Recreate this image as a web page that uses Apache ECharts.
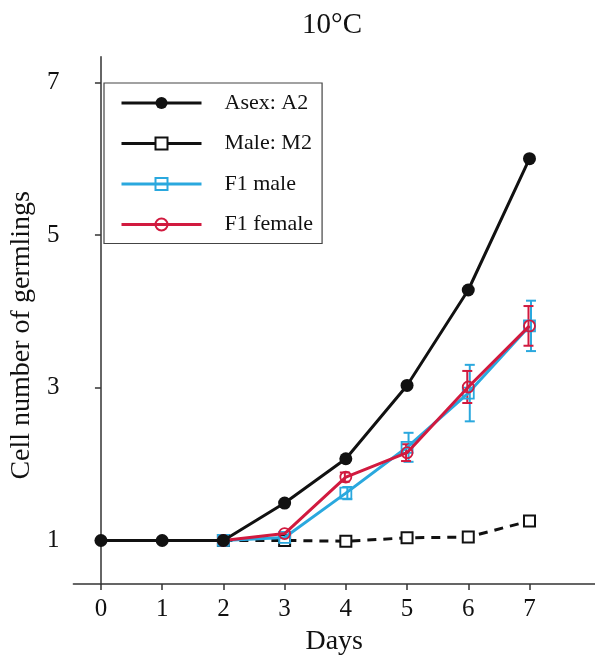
<!DOCTYPE html>
<html>
<head>
<meta charset="utf-8">
<script src="https://cdn.jsdelivr.net/npm/echarts@6/dist/echarts.min.js"></script>
<style>
  html, body { margin: 0; padding: 0; background: #fff; }
  #chart { width: 595px; height: 661px; }
</style>
</head>
<body>
<div id="chart"></div>
<script>
// ---- data ----
const titleText = '10°C';
const xName = 'Days';
const yName = 'Cell number of germlings';
const days = [0, 1, 2, 3, 4, 5, 6, 7];
const xTicks = [0, 1, 2, 3, 4, 5, 6, 7];
const yTicks = [1, 3, 5, 7];
const seriesNames = ['Asex: A2', 'Male: M2', 'F1 male', 'F1 female'];
const asexA2   = [1, 1, 1, 1.49, 2.07, 3.03, 4.28, 6.00];
const maleM2   = [null, null, 1, 1.00, 0.99, 1.035, 1.045, 1.255];
const f1Male   = [null, null, 1, 1.04, 1.62, 2.22, 2.93, 3.81];
const f1Female = [null, null, 1, 1.09, 1.83, 2.15, 3.01, 3.81];
const f1MaleErr   = [null, null, 0, 0, 0.08, 0.19, 0.37, 0.33];
const f1FemaleErr = [null, null, 0, 0, 0.06, 0.11, 0.21, 0.26];

// ---- styles ----
const FONT = '"Liberation Serif", "DejaVu Serif", serif';
const BLACK = '#111111';
const BLUE = '#2aa8de';
const RED = '#d11a3f';

function pairs(vals) {
  const out = [];
  vals.forEach((v, i) => { if (v !== null) out.push([days[i], v]); });
  return out;
}
function errData(vals, errs) {
  const out = [];
  vals.forEach((v, i) => {
    if (v !== null && errs[i]) out.push([days[i], v - errs[i], v + errs[i]]);
  });
  return out;
}
function errSeries(vals, errs, color, dx) {
  return {
    type: 'custom',
    data: errData(vals, errs),
    encode: { x: 0, y: [1, 2] },
    z: 1,
    silent: true,
    renderItem: function (params, api) {
      const x = api.value(0), lo = api.value(1), hi = api.value(2);
      const pt = api.coord([x, hi]);
      const pb = api.coord([x, lo]);
      const cx = pt[0] + dx;
      const w = 5;
      const st = { stroke: color, lineWidth: 2 };
      return {
        type: 'group',
        children: [
          { type: 'line', shape: { x1: cx, y1: pt[1], x2: cx, y2: pb[1] }, style: st },
          { type: 'line', shape: { x1: cx - w, y1: pt[1], x2: cx + w, y2: pt[1] }, style: st },
          { type: 'line', shape: { x1: cx - w, y1: pb[1], x2: cx + w, y2: pb[1] }, style: st }
        ]
      };
    }
  };
}

const chart = echarts.init(document.getElementById('chart'), null, { renderer: 'canvas' });
chart.setOption({
  animation: false,
  backgroundColor: '#fff',
  title: {
    text: titleText,
    left: 332,
    top: 11,
    textAlign: 'center',
    padding: 0,
    textStyle: { fontFamily: FONT, fontSize: 29, fontWeight: 'normal', color: '#111' }
  },
  legend: {
    orient: 'vertical',
    left: 104,
    top: 83,
    padding: [9, 9, 8, 16],
    itemWidth: 80,
    itemHeight: 15,
    itemGap: 18.5,
    borderColor: '#444',
    borderWidth: 1.2,
    lineStyle: { width: 3 },
    textStyle: { fontFamily: FONT, fontSize: 22, color: '#111', padding: [0, 0, 0, 18] },
    data: [
      { name: seriesNames[0] },
      { name: seriesNames[1], lineStyle: { type: 'solid', width: 3 } },
      { name: seriesNames[2] },
      { name: seriesNames[3] }
    ]
  },
  grid: { left: 71.7, right: 0, top: 56.7, bottom: 69, containLabel: false },
  xAxis: {
    type: 'value',
    min: -0.45,
    max: 8.07,
    name: xName,
    nameLocation: 'middle',
    nameGap: 44,
    nameTextStyle: { fontFamily: FONT, fontSize: 28, color: '#111' },
    axisLine: { lineStyle: { color: '#333', width: 1.5 } },
    axisTick: { show: true, inside: false, length: 6, customValues: xTicks, lineStyle: { color: '#333', width: 1.5 } },
    axisLabel: { customValues: xTicks, margin: 13, fontFamily: FONT, fontSize: 25, color: '#111' },
    splitLine: { show: false }
  },
  yAxis: {
    type: 'value',
    min: 0.43,
    max: 7.335,
    name: yName,
    nameLocation: 'middle',
    nameGap: 21,
    nameTextStyle: { fontFamily: FONT, fontSize: 28, color: '#111', padding: [0, 30, 0, 0] },
    axisLine: { show: true, lineStyle: { color: '#333', width: 1.5 } },
    axisTick: { show: true, inside: false, length: 6, customValues: yTicks, lineStyle: { color: '#333', width: 1.5 } },
    axisLabel: { customValues: yTicks, margin: 14, fontFamily: FONT, fontSize: 25, color: '#111' },
    splitLine: { show: false }
  },
  series: [
    {
      name: seriesNames[1], type: 'line', data: pairs(maleM2), z: 2,
      symbol: 'emptyRect', symbolSize: 11,
      itemStyle: { color: BLACK },
      lineStyle: { color: BLACK, width: 3, type: [9, 7] }
    },
    errSeries(f1Male, f1MaleErr, BLUE, 1.5),
    errSeries(f1Female, f1FemaleErr, RED, -1),
    {
      name: seriesNames[2], type: 'line', data: pairs(f1Male), z: 3,
      symbol: 'rect', symbolSize: 11,
      itemStyle: { color: 'rgba(255,255,255,0)', borderColor: BLUE, borderWidth: 1.8 },
      lineStyle: { color: BLUE, width: 3 }
    },
    {
      name: seriesNames[3], type: 'line', data: pairs(f1Female), z: 4,
      symbol: 'circle', symbolSize: 11,
      itemStyle: { color: 'rgba(255,255,255,0)', borderColor: RED, borderWidth: 1.8 },
      lineStyle: { color: RED, width: 3 }
    },
    {
      name: seriesNames[0], type: 'line', data: pairs(asexA2), z: 5,
      symbol: 'circle', symbolSize: 13,
      itemStyle: { color: BLACK },
      lineStyle: { color: BLACK, width: 3 }
    }
  ]
});
</script>
</body>
</html>
